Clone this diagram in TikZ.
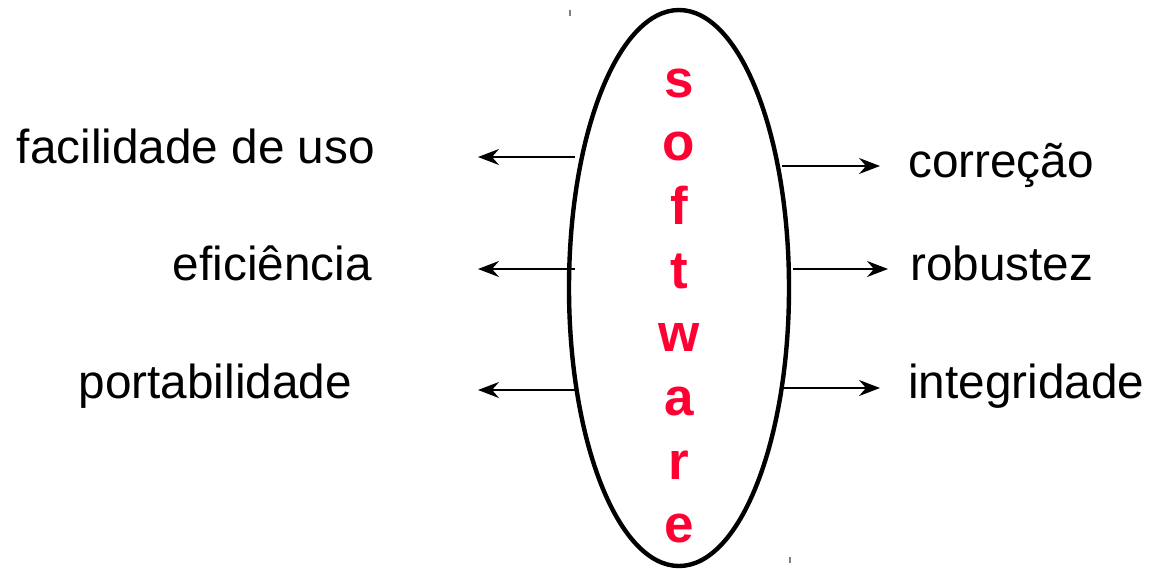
\documentclass[tikz,border=0pt]{standalone}
\usepackage{fontspec}
\setmainfont{Liberation Sans}
\usetikzlibrary{arrows.meta,shapes.geometric}
\definecolor{swred}{RGB}{255,0,51}
\tikzset{
  label/.style={font=\fontsize{47.7}{50}\selectfont, inner sep=0pt, anchor=base},
  letter/.style={font=\fontsize{53}{55}\selectfont\bfseries, text=swred, inner sep=0pt, anchor=base},
  arr/.style={line width=1.9pt, -{Stealth[length=21pt,width=16pt,inset=7pt]}},
  tick/.style={gray, line width=1.5pt}
}
\begin{document}
\begin{tikzpicture}[x=1pt,y=-1pt]
\useasboundingbox (0,0) rectangle (1151,568);
% central oval
\node[draw, ellipse, line width=4.4pt, minimum width=220pt, minimum height=556pt, inner sep=0pt] (sw) at (679,288) {};
% vertical word
\foreach \c [count=\i from 0] in {s,o,f,t,w,a,r,e}
  \node[letter] (l\i) at (679,{97+63.7*\i}) {\c};
% qualities on the left
\node[label, anchor=base east] (fac) at (375,163) {facilidade de uso};
\node[label, anchor=base east] (efi) at (372,280) {eficiência};
\node[label, anchor=base east] (por) at (352,398) {portabilidade};
% qualities on the right
\node[label, anchor=base west] (cor) at (908,177) {correção};
\node[label, anchor=base west] (rob) at (910,280) {robustez};
\node[label, anchor=base west] (int) at (908,398) {integridade};
% arrow ends
\coordinate (fs) at (575,157); \coordinate (fe) at (478,157);
\coordinate (es) at (575,269); \coordinate (ee) at (478,269);
\coordinate (ps) at (575,390); \coordinate (pe) at (478,390);
\coordinate (cs) at (782,166); \coordinate (ce) at (880,166);
\coordinate (rs) at (793,269); \coordinate (re) at (888,269);
\coordinate (is) at (782,388); \coordinate (ie) at (880,388);
\draw[arr] (fs) -- (fe);
\draw[arr] (es) -- (ee);
\draw[arr] (ps) -- (pe);
\draw[arr] (cs) -- (ce);
\draw[arr] (rs) -- (re);
\draw[arr] (is) -- (ie);
% small marks
\draw[tick] (570,10) -- (570,16);
\draw[tick] (790,557) -- (790,563);
\end{tikzpicture}
\end{document}
